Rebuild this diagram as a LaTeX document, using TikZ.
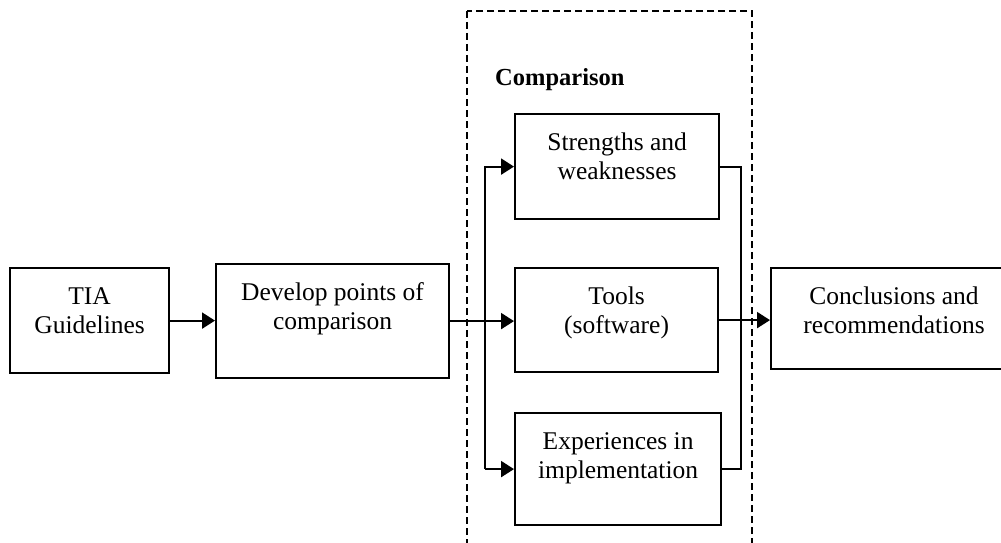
\documentclass[tikz,border=0pt]{standalone}
\usepackage{fontspec}
\setmainfont{Liberation Serif}
\usetikzlibrary{arrows.meta}

% text block of a box: fixed size, lines hung from the top
\newcommand\boxtxt[3]{\parbox[c][#2][t]{#1}{\centering\rule{0pt}{36pt}#3}}

\begin{document}
\begin{tikzpicture}[x=1pt,y=-1pt,
  box/.style={draw, line width=2.2pt, inner sep=0pt, anchor=north west,
    font=\fontsize{25.5}{29}\selectfont},
  link/.style={line width=2.2pt},
  arr/.style={link, -{Triangle[length=13pt,width=16pt]}},
  frame/.style={line width=2.8pt, dash pattern=on 7pt off 4pt},
  title/.style={anchor=base west, inner sep=0pt,
    font=\fontsize{24.5}{29}\selectfont\bfseries}]
\useasboundingbox (0,0) rectangle (1001,543);

% grouping frame of the comparison stage
\draw[frame] (467,11) rectangle (752,548);
\node[title] (cmp) at (495,85) {Comparison};

% boxes
\node[box] (tia)   at (9,267)   {\boxtxt{159pt}{105pt}{TIA\\Guidelines}};
\node[box] (dev)   at (215,263) {\boxtxt{233pt}{114pt}{Develop points of\\comparison}};
\node[box] (str)   at (514,113) {\boxtxt{204pt}{105pt}{Strengths and\\weaknesses}};
\node[box] (tools) at (514,267) {\boxtxt{203pt}{104pt}{Tools\\(software)}};
\node[box] (exp)   at (514,412) {\boxtxt{206pt}{112pt}{Experiences in\\implementation}};
\node[box] (conc)  at (770,267) {\boxtxt{246pt}{101pt}{Conclusions and\\recommendations}};

% bus lines
\coordinate (lb) at (485,0);
\coordinate (rb) at (741,0);

% connectors
\draw[arr] (tia.east) -- (tia.east -| dev.west);
\draw[arr] (dev.east) -- (dev.east -| tools.west);
\draw[arr] (lb |- exp.west) |- (str.west);
\draw[arr] (lb |- exp.west) -- (exp.west);
\draw[link] (str.east) -| (rb |- exp.east) -- (exp.east);
\draw[arr] (tools.east) -- (tools.east -| conc.west);
\end{tikzpicture}
\end{document}
